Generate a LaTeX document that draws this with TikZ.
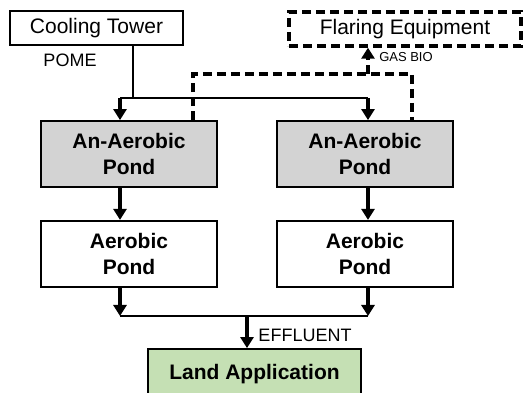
\documentclass[tikz,border=0pt]{standalone}
\usepackage{fontspec}
\setmainfont{Liberation Sans}
\usetikzlibrary{arrows.meta,positioning}
\definecolor{pondgray}{RGB}{211,211,211}
\definecolor{landgreen}{RGB}{197,224,180}

\begin{document}
\begin{tikzpicture}[x=1pt,y=-1pt,>={Triangle[length=11pt,width=13pt]},
  box/.style={draw,line width=1.8pt,align=center,inner sep=0pt},
  pond/.style={box,minimum width=176pt,minimum height=66pt,
    font=\fontsize{21}{26}\selectfont\bfseries},
  flow/.style={->,line width=3.6pt},
  pipe/.style={line width=2.2pt},
  gas/.style={line width=3.4pt,dash pattern=on 9pt off 5pt},
  lbl/.style={inner sep=0pt,font=\fontsize{18}{20}\selectfont}]
    \useasboundingbox (0,0) rectangle (523,393);
    \node[box,minimum width=173pt,minimum height=34pt,
      font=\fontsize{21}{25}\selectfont](tower) at (96.5,28) {Cooling Tower};
    \node[box,gas,minimum width=232pt,minimum height=34pt,
      font=\fontsize{21}{25}\selectfont](flare) at (405,29) {Flaring Equipment};
    \node[pond,fill=pondgray](anaL) at (129,154) {An-Aerobic\\Pond};
    \node[pond,fill=pondgray](anaR) at (365,154) {An-Aerobic\\Pond};
    \node[pond,below=32pt of anaL](aerL) {Aerobic\\Pond};
    \node[pond,below=32pt of anaR](aerR) {Aerobic\\Pond};
    \node[box,fill=landgreen,minimum width=213pt,minimum height=50pt,
      font=\fontsize{21}{25}\selectfont\bfseries](land) at (254.5,374) {Land Application};
    \node[lbl](pome) at (70,60) {POME};
    \node[lbl,font=\fontsize{13}{15}\selectfont](gasbio) at (406,57) {GAS BIO};
    \node[lbl](efflu) at (305,335) {EFFLUENT};

    \coordinate (split) at (133,98);
    \coordinate (feedL) at (120,98);
    \coordinate (feedR) at (368,98);
    \coordinate (joinL) at (120,316);
    \coordinate (joinR) at (368,316);
    \coordinate (joinM) at (247,316);
    \coordinate (gasL) at (193,74);
    \coordinate (gasR) at (412,74);
    \coordinate (gasM) at (368,74);

    \draw[line width=1.8pt] (tower.south -| split) -- (split);
    \draw[pipe] (feedL) -- (feedR);
    \draw[flow] (feedL) -- (feedL |- anaL.north);
    \draw[flow] (feedR) -- (feedR |- anaR.north);
    \draw[flow] (anaL.south -| feedL) -- (aerL.north -| feedL);
    \draw[flow] (anaR.south -| feedR) -- (aerR.north -| feedR);
    \draw[flow] (aerL.south -| joinL) -- (joinL);
    \draw[flow] (aerR.south -| joinR) -- (joinR);
    \draw[flow] (joinM) -- (joinM |- land.north);
    \draw[pipe,line width=2.6pt] (joinL) -- (joinR);
    \draw[gas] (anaL.north -| gasL) -- (gasL) -- (gasR) -- (gasR |- anaR.north);
    \draw[gas,->] (gasM) -- (gasM |- flare.south);

\end{tikzpicture}
\end{document}
